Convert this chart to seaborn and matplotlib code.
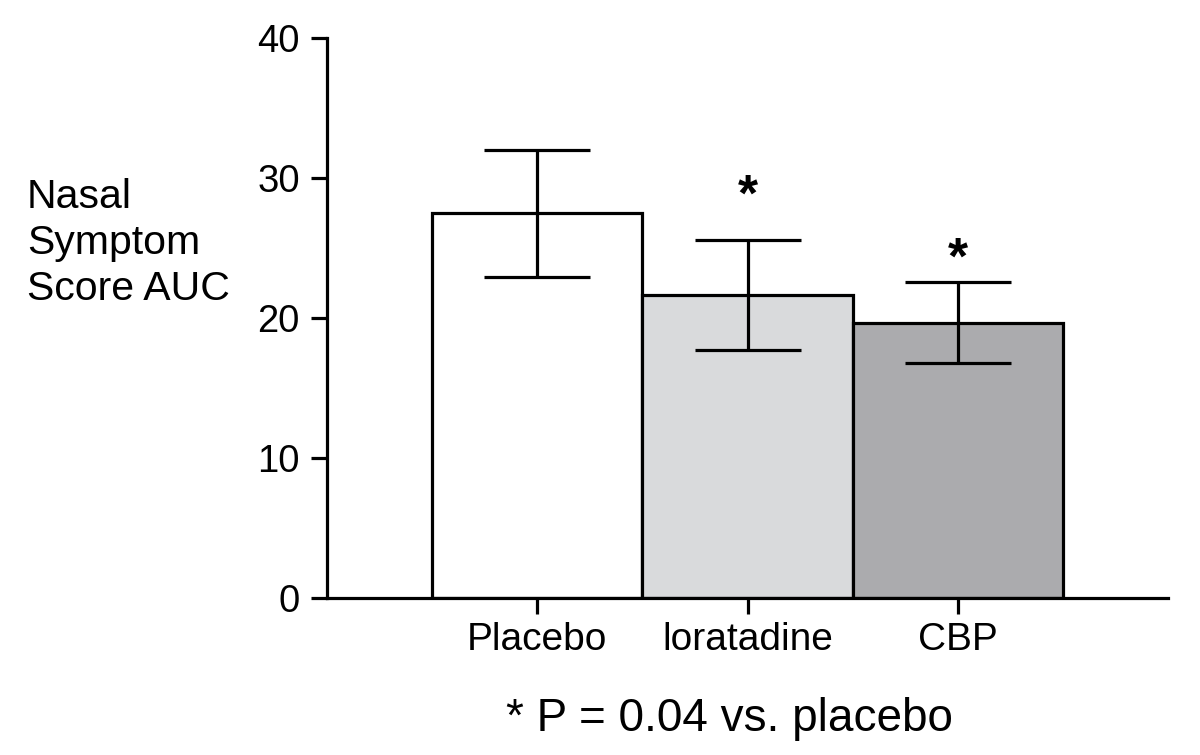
import numpy as np
import pandas as pd
import matplotlib
matplotlib.use('Agg')
import matplotlib.pyplot as plt
import seaborn as sns

# values
grupos = ['Placebo', 'loratadine', 'CBP']
media = [27.5, 21.65, 19.65]
err_sup = [32.0, 25.6, 22.55]
err_inf = [22.95, 17.7, 16.8]
colores = ['#ffffff', '#d9dadc', '#aaabaf']
asteriscos = ['', '*', '*']
y_asterisco = [0, 28.6, 24.1]

sns.set_style('ticks')
plt.rcParams['font.family'] = ['Liberation Sans', 'DejaVu Sans']
plt.rcParams['text.color'] = 'black'

df = pd.DataFrame({'grupo': grupos, 'auc': media})

fig = plt.figure(figsize=(12, 7.55), dpi=100)
ax = fig.add_axes([327 / 1200, 1 - 598 / 755, (1168 - 327) / 1200, (598 - 38) / 755])

sns.barplot(data=df, x='grupo', y='auc', hue='grupo', palette=colores, legend=False,
            width=1.0, edgecolor='black', linewidth=2.3, errorbar=None, ax=ax)

x = np.arange(len(grupos))
yerr = [np.array(media) - np.array(err_inf), np.array(err_sup) - np.array(media)]
ax.errorbar(x, media, yerr=yerr, fmt='none', ecolor='black', elinewidth=2.3,
            capsize=38, capthick=2.3, zorder=5)

for xi, s, ya in zip(x, asteriscos, y_asterisco):
    if s:
        ax.text(xi, ya, s, ha='center', va='center', fontsize=37, fontweight='bold')

ax.set_xlim(-1, 3)
ax.set_ylim(0, 40)
ax.set_yticks([0, 10, 20, 30, 40])
ax.set_xlabel('')
ax.set_ylabel('')
sns.despine(ax=ax)
for lado in ['left', 'bottom']:
    ax.spines[lado].set_linewidth(2.3)
    ax.spines[lado].set_color('black')
ax.tick_params(axis='both', width=2.3, length=11.5, labelsize=27.5, colors='black', pad=8)
ax.tick_params(axis='x', labelsize=28, pad=6)

fig.text(27 / 1200, 1 - 243 / 755, 'Nasal\nSymptom\nScore AUC', ha='left', va='center',
         fontsize=29.5, linespacing=1.27)
fig.text(729 / 1200, 1 - 719 / 755, '* P = 0.04 vs. placebo', ha='center', va='center',
         fontsize=33)

fig.savefig('out.png', dpi=100)
